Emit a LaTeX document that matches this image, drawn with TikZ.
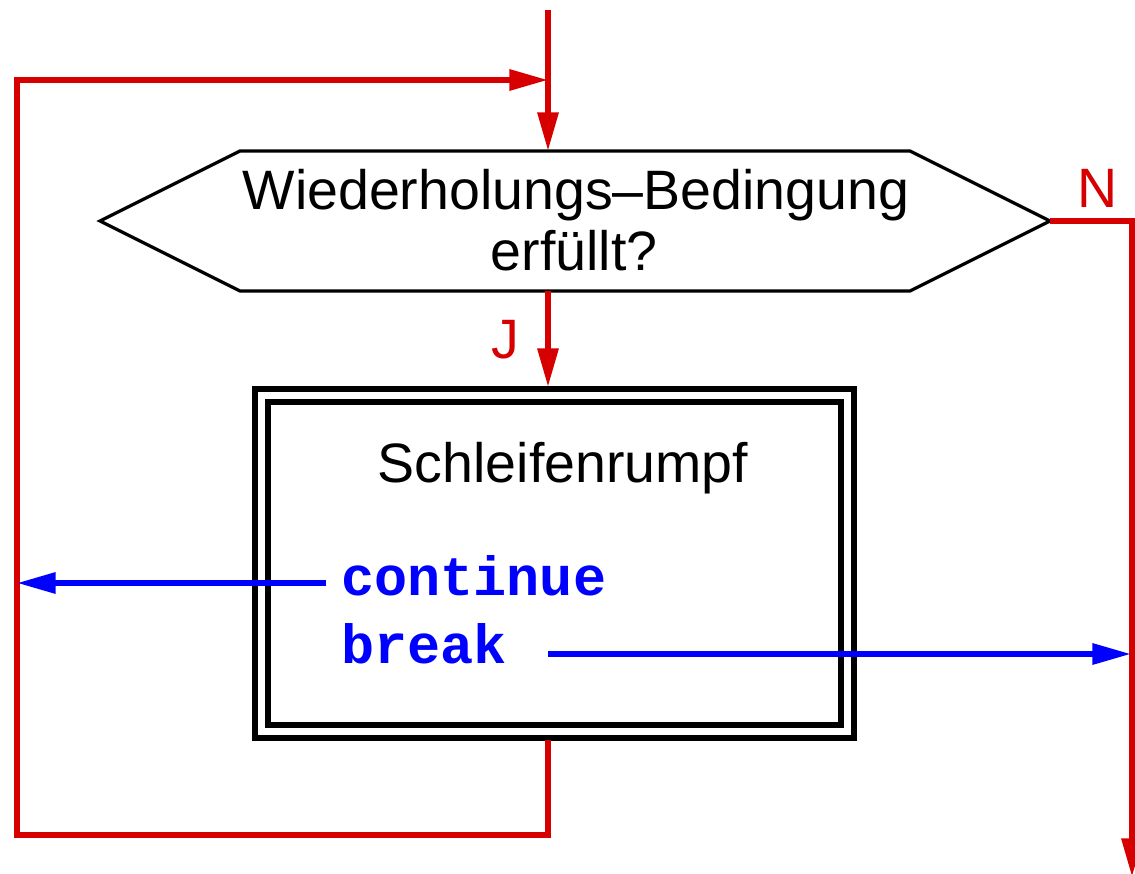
\documentclass[tikz,border=0pt]{standalone}
\usepackage{fontspec}
\setmainfont{Liberation Sans}
\newfontfamily\codefont{Liberation Mono}
\usetikzlibrary{arrows.meta}
\definecolor{fred}{RGB}{215,0,0}
\definecolor{fblue}{RGB}{0,0,255}
\tikzset{
  redline/.style={draw=fred, line width=3.2pt},
  blueline/.style={draw=fblue, line width=3.2pt},
  tip/.style={-{Triangle[length=22pt,width=11.5pt]}},
  txt/.style={inner sep=0pt, font=\fontsize{31.6}{37}\selectfont},
  code/.style={inner sep=0pt, text=fblue, font=\fontsize{31.4}{37}\selectfont\codefont\bfseries},
  lbl/.style={inner sep=0pt, text=fred, font=\fontsize{31.6}{37}\selectfont},
  boxline/.style={draw=black, line width=3.4pt},
}
\begin{document}
\begin{tikzpicture}[x=0.02cm,y=-0.02cm]
\useasboundingbox (0,0) rectangle (1135,874);
% hexagon
\coordinate (hl) at (100,221);
\coordinate (htl) at (240,151);
\coordinate (htr) at (910,151);
\coordinate (hr) at (1050,221);
\coordinate (hbr) at (910,291);
\coordinate (hbl) at (240,291);
\coordinate (htop) at (548,151);
\coordinate (hbot) at (548,291);
\draw[line width=1.8pt, line join=miter] (hl) -- (htl) -- (htr) -- (hr) -- (hbr) -- (hbl) -- cycle;
\node[txt, anchor=base] (cond1) at (576,210) {Wiederholungs–Bedingung};
\node[txt, anchor=base] (cond2) at (574,271) {erfüllt?};
% double box
\draw[boxline] (255,389) rectangle (854,738);
\draw[boxline] (268,402) rectangle (841,725);
\coordinate (btop) at (548,387);
\coordinate (bbot) at (548,740);
\node[txt, anchor=base] (body) at (563,482) {Schleifenrumpf};
\node[code, anchor=base west] (cont) at (341,595) {continue};
\node[code, anchor=base west] (brk) at (341,663) {break};
% labels
\node[lbl] (N) at (1098,188) {N};
\node[lbl] (J) at (505,340) {J};
% loop coordinates
\coordinate (start) at (548,10);
\coordinate (lb) at (548,835);
\coordinate (lbl2) at (17,835);
\coordinate (ltl) at (17,80);
\coordinate (ljoin) at (548,80);
\coordinate (rtop) at (1132,221);
\coordinate (rend) at (1132,877);
\coordinate (contEnd) at (17,583);
\coordinate (contStart) at (326,583);
\coordinate (brkStart) at (548,654);
\coordinate (brkEnd) at (1131,654);
% red flow
\draw[redline, tip] (start) -- (htop);
\draw[redline, tip] (hbot) -- (btop);
\draw[redline, tip, line join=miter] (bbot) -- (lb) -- (lbl2) -- (ltl) -- (ljoin);
\draw[redline, tip, line join=miter] (hr) -- (rtop) -- (rend);
% blue
\draw[blueline, tip] (contStart) -- (contEnd);
\draw[blueline, tip] (brkStart) -- (brkEnd);
\end{tikzpicture}
\end{document}
